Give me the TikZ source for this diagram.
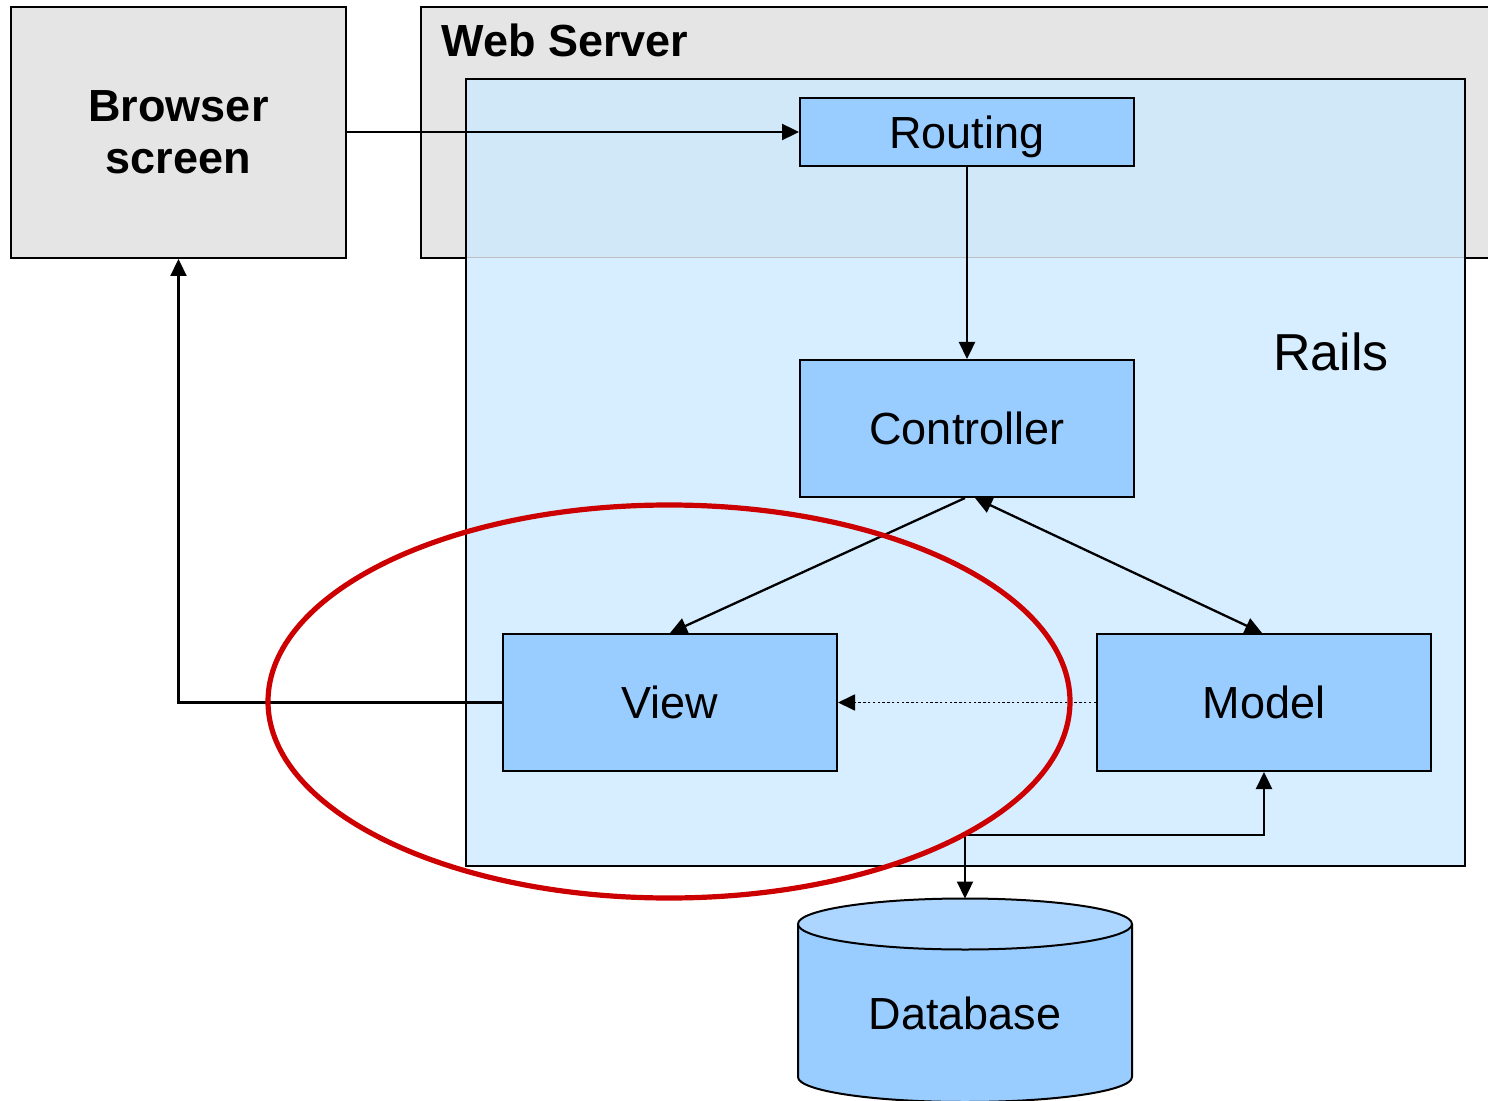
\documentclass[tikz,border=0pt]{standalone}
\usepackage{fontspec}
\setmainfont{Liberation Sans}
\usetikzlibrary{arrows.meta,shapes.geometric}
\definecolor{serverGray}{HTML}{E5E5E5}
\definecolor{railsTop}{HTML}{D0E8F8}
\definecolor{railsLow}{HTML}{D6EEFF}
\definecolor{compBlue}{HTML}{99CCFF}
\definecolor{dbTop}{HTML}{ACD6FF}
\definecolor{ringRed}{HTML}{CC0000}
\begin{document}
\begin{tikzpicture}[x=0.5pt,y=-0.5pt,
  label font/.style={font=\fontsize{22.5}{26}\selectfont},
  component/.style={draw=black, line width=1pt, fill=compBlue, inner sep=0pt,
    minimum width=167pt, label font, text height=16.1pt, text depth=0pt},
  frame/.style={draw=black, line width=1pt, inner sep=0pt, anchor=north west},
  head/.tip={Triangle[length=8.5pt,width=8pt]},
  link/.style={line width=1.15pt, -head},
  twoway/.style={line width=1.15pt, head-head},
  weak/.style={line width=0.9pt, dash pattern=on 1.2pt off 1.2pt, -head},
  ring/.style={draw=ringRed, line width=2.6pt, ellipse, inner sep=0pt}]
\useasboundingbox (0,0) rectangle (1488,1101);
\clip (0,0) rectangle (1488,1101);
\fill[white] (0,0) rectangle (1488,1101);

% outer containers
\node[frame, fill=serverGray, minimum width=540pt, minimum height=125.5pt] (server) at (420,6) {};
\node[anchor=base west, inner sep=0pt, font=\fontsize{22.5}{26}\selectfont\bfseries] (servertitle) at (441,57) {Web Server};
\node[draw=black, line width=1pt, fill=serverGray, minimum width=167.5pt, minimum height=125.5pt,
  align=center, font=\fontsize{22.5}{26}\selectfont\bfseries] (browser) at (178.5,132.5) {Browser\\screen};

% Rails area: lighter lower part, upper part over the server box
\node[inner sep=0pt, anchor=north west, fill=railsLow, minimum width=499pt, minimum height=393pt] (rails) at (466,79) {};
\fill[railsTop] (rails.north west) rectangle (1464,257);
\draw[black!25, line width=0.4pt] (466,257) -- (1464,257);
\draw[line width=1pt] (rails.north west) rectangle (rails.south east);
\node[anchor=base west, inner sep=0pt, font=\fontsize{26}{30}\selectfont] (railstitle) at (1273,371) {Rails};

% MVC components
\node[component, minimum height=34pt] (routing) at (967,132) {Routing};
\node[component, minimum height=68.5pt] (ctrl) at (967,428.5) {Controller};
\node[component, minimum height=68.5pt] (view) at (670,702.5) {View};
\node[component, minimum height=68.5pt] (model) at (1264,702.5) {Model};

% database cylinder
\fill[compBlue] (798,924) rectangle (1132,1077);
\fill[compBlue] (965,1077) ellipse [x radius=167, y radius=25];
\draw[line width=1pt] (798,924) -- (798,1077) arc[start angle=180, end angle=0, x radius=167, y radius=25] -- (1132,924);
\filldraw[fill=dbTop, line width=1pt] (965,924) ellipse [x radius=167, y radius=25.5];
\node[inner sep=0pt, label font] (db) at (965,1013) {Database};
\coordinate (dbin) at (965,898.5);
\coordinate (split) at (965,835);

% connectors
\draw[link] (browser.east |- routing.west) -- (routing.west);
\draw[link] (routing.south) -- (ctrl.north);
\draw[link] ([xshift=-1pt]ctrl.south) -- (view.north);
\draw[twoway] ([xshift=4pt]ctrl.south) -- ([xshift=-1pt]model.north);
\draw[weak] (model.west) -- (view.east);
\draw[link] (view.west) -| (browser.south);
\draw[twoway] (dbin) -- (split) -| (model.south);

% highlight ring around the view layer
\node[ring, minimum width=401pt, minimum height=196.5pt] (focus) at (669,701.5) {};
\end{tikzpicture}
\end{document}
